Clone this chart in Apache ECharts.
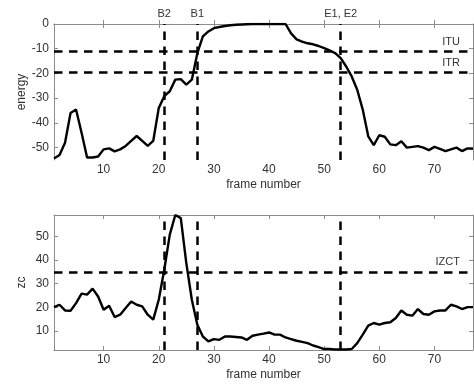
<!DOCTYPE html>
<html>
<head>
<meta charset="utf-8">
<script src="https://cdn.jsdelivr.net/npm/echarts@6/dist/echarts.min.js"></script>
<style>
  html, body { margin: 0; padding: 0; background: #fff; }
  #chart { width: 474px; height: 385px; }
</style>
</head>
<body>
<div id="chart"></div>
<script>
// Short-time energy (dB) per frame
const energy = [
  -54.4, -53, -48, -36, -34.6, -44, -54, -54, -53.6, -50.7,
  -50.3, -51.5, -50.7, -49.3, -47.3, -45.3, -47.3, -49.3, -47.3, -34,
  -29.2, -27.2, -22.5, -22.3, -24.5, -22.5, -11.8, -5, -3, -1.7,
  -1.2, -0.8, -0.5, -0.3, -0.2, -0.1, 0, 0, 0, 0,
  0, 0, 0, -3.8, -6.2, -7.1, -7.8, -8.2, -8.9, -9.8,
  -10.7, -11.8, -13.8, -17.2, -21.2, -26.6, -34.6, -45.4, -49, -45,
  -45.6, -48.7, -49, -47.4, -50, -49.7, -49.4, -50, -51, -49.7,
  -50.5, -51.4, -50.7, -50, -51.4, -50.3, -50.5
];

// Zero-crossing count per frame
const zc = [
  20.1, 21.1, 18.7, 18.6, 21.8, 25.8, 25.4, 27.9, 24.6, 19,
  20.7, 15.9, 16.9, 19.7, 22.5, 21.1, 20.4, 16.9, 14.8, 23.2,
  35.9, 50.7, 59, 57.7, 38.7, 23.2, 12.7, 7.7, 5.6, 6.6,
  6.3, 7.7, 7.7, 7.5, 7.3, 6.3, 8, 8.5, 8.9, 9.4,
  8.5, 8.5, 7.3, 6.6, 5.9, 5.4, 4.9, 3.9, 3.2, 2.4,
  2.4, 2.2, 2.2, 2.2, 2.4, 4.9, 8.5, 12.3, 13.4, 12.7,
  13.4, 13.7, 15.5, 18.7, 16.9, 16.5, 19.3, 17.2, 16.9, 18.3,
  18.7, 18.7, 21.1, 20.4, 19.3, 20.1, 20.1
];

// Frame indices for the x axis
const frames = [];
for (let i = 1; i <= energy.length; i++) frames.push(i);

// Tick values
const xTicks = [10, 20, 30, 40, 50, 60, 70];
const energyTicks = [-50, -40, -30, -20, -10, 0];
const zcTicks = [10, 20, 30, 40, 50];

// Thresholds and detected endpoints
const ITU = -11;
const ITR = -19.5;
const IZCT = 35;
const endpoints = [
  { frame: 21, name: 'B2' },
  { frame: 27, name: 'B1' },
  { frame: 53, name: 'E1, E2' }
];

const FONT = 'Liberation Sans, Arial, sans-serif';
const TXT = '#333';
const BOX = '#8c8c8c';

const dashStyle = { color: '#000', width: 2.5, type: [8.5, 6.5] };

function xAxes(gridIndex) {
  return [
    {
      type: 'value', gridIndex, min: 1, max: 77, position: 'bottom',
      name: 'frame number', nameLocation: 'middle', nameGap: 19, nameMoveOverlap: false,
      nameTextStyle: { color: TXT, fontSize: 12, fontFamily: FONT, verticalAlign: 'top' },
      axisLine: { show: true, lineStyle: { color: BOX, width: 1 } },
      axisTick: { show: true, inside: true, length: 4, customValues: xTicks, lineStyle: { color: BOX } },
      axisLabel: { show: true, customValues: xTicks, color: TXT, fontSize: 12, fontFamily: FONT, margin: 4 },
      splitLine: { show: false }
    },
    {
      type: 'value', gridIndex, min: 1, max: 77, position: 'top',
      axisLine: { show: true, lineStyle: { color: BOX, width: 1 } },
      axisTick: { show: true, inside: true, length: 4, customValues: xTicks, lineStyle: { color: BOX } },
      axisLabel: { show: false },
      splitLine: { show: false }
    }
  ];
}

function yAxes(gridIndex, min, max, ticks, name) {
  return [
    {
      type: 'value', gridIndex, min, max, position: 'left',
      name, nameLocation: 'middle', nameGap: 26, nameRotate: 90, nameMoveOverlap: false,
      nameTextStyle: { color: TXT, fontSize: 12, fontFamily: FONT },
      axisLine: { show: true, lineStyle: { color: BOX, width: 1 } },
      axisTick: { show: true, inside: true, length: 4, customValues: ticks, lineStyle: { color: BOX } },
      axisLabel: { show: true, customValues: ticks, color: TXT, fontSize: 12, fontFamily: FONT, margin: 5 },
      splitLine: { show: false }
    },
    {
      type: 'value', gridIndex, min, max, position: 'right',
      axisLine: { show: true, lineStyle: { color: BOX, width: 1 } },
      axisTick: { show: true, inside: true, length: 4, customValues: ticks, lineStyle: { color: BOX } },
      axisLabel: { show: false },
      splitLine: { show: false }
    }
  ];
}

function hLine(value, label) {
  return {
    yAxis: value,
    lineStyle: dashStyle,
    label: {
      show: true, formatter: label, position: 'insideEndTop',
      color: TXT, fontSize: 11, fontFamily: FONT, distance: [13, 4]
    }
  };
}

function vLines(withLabels) {
  return endpoints.map(e => ({
    xAxis: e.frame,
    lineStyle: dashStyle,
    label: {
      show: withLabels, formatter: e.name, position: 'end',
      color: TXT, fontSize: 11, fontFamily: FONT, distance: 5
    }
  }));
}

const option = {
  animation: false,
  backgroundColor: '#fff',
  grid: [
    { left: 54, top: 24, width: 419, height: 136 },
    { left: 54, top: 215, width: 419, height: 135 }
  ],
  xAxis: [...xAxes(0), ...xAxes(1)],
  yAxis: [...yAxes(0, -55, 0, energyTicks, 'energy'), ...yAxes(1, 2, 59, zcTicks, 'zc')],
  series: [
    {
      type: 'line', xAxisIndex: 0, yAxisIndex: 0,
      data: frames.map((f, i) => [f, energy[i]]),
      showSymbol: false, symbol: 'none',
      lineStyle: { color: '#000', width: 2.4 },
      markLine: {
        silent: true, symbol: 'none', animation: false,
        data: [hLine(ITU, 'ITU'), hLine(ITR, 'ITR'), ...vLines(true)]
      }
    },
    {
      type: 'line', xAxisIndex: 2, yAxisIndex: 2,
      data: frames.map((f, i) => [f, zc[i]]),
      showSymbol: false, symbol: 'none',
      lineStyle: { color: '#000', width: 2.4 },
      markLine: {
        silent: true, symbol: 'none', animation: false,
        data: [hLine(IZCT, 'IZCT'), ...vLines(false)]
      }
    }
  ]
};

const chart = echarts.init(document.getElementById('chart'), null, { renderer: 'canvas' });
chart.setOption(option);
</script>
</body>
</html>
